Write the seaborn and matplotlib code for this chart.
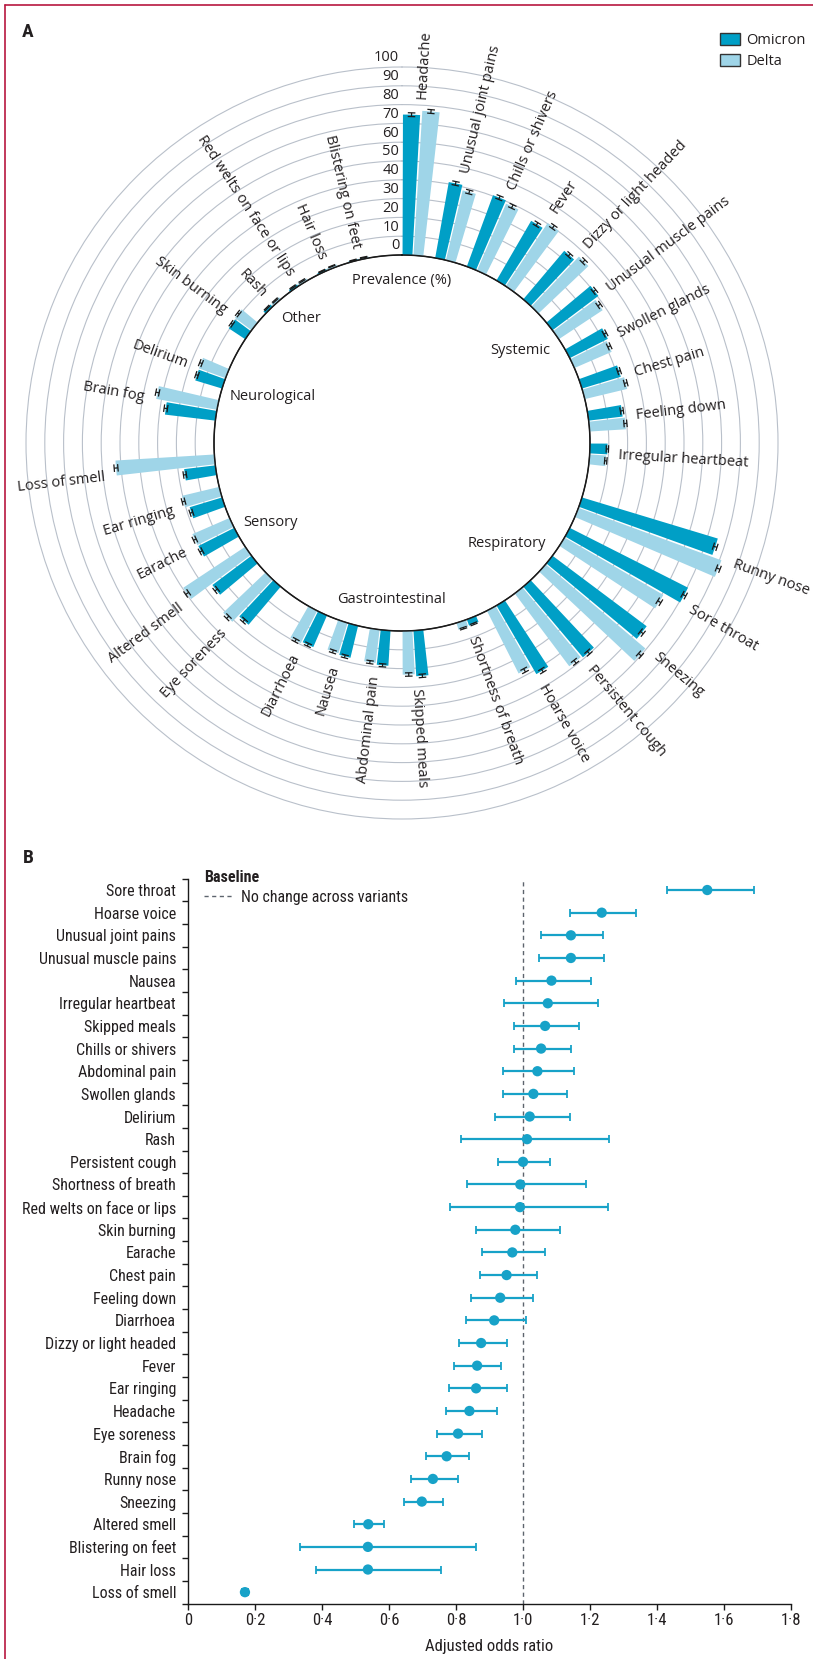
#!/usr/bin/env python3

'''circular prevalence bars (A) and odds ratio forest plot (B)'''

import numpy as np
import pandas as pd
import matplotlib
matplotlib.use('Agg')
import matplotlib.pyplot as plt
import seaborn as sns
from matplotlib.patches import Patch
from matplotlib.lines import Line2D

# ---------------- panel A data: prevalence (%), clockwise from the top ----------------
groups = ['Systemic', 'Respiratory', 'Gastrointestinal', 'Sensory', 'Neurological', 'Other']
systemic = ['Headache', 'Unusual joint pains', 'Chills or shivers', 'Fever', 'Dizzy or light headed',
            'Unusual muscle pains', 'Swollen glands', 'Chest pain', 'Feeling down', 'Irregular heartbeat']
respiratory = ['Runny nose', 'Sore throat', 'Sneezing', 'Persistent cough', 'Hoarse voice',
               'Shortness of breath']
gastro = ['Skipped meals', 'Abdominal pain', 'Nausea', 'Diarrhoea']
sensory = ['Eye soreness', 'Altered smell', 'Earache', 'Ear ringing', 'Loss of smell']
neuro = ['Brain fog', 'Delirium']
other = ['Skin burning', 'Rash', 'Red welts on face or lips', 'Hair loss', 'Blistering on feet']

omicron_prev = [74.7, 41.0, 40.4, 36.7, 33.8, 30.5, 22.7, 21.6, 18.2, 9.3,
                75.5, 70.5, 62.6, 49.2, 42.2, 3.5,
                24.3, 18.7, 17.5, 18.4,
                26.5, 26.0, 21.4, 18.0, 16.7,
                27.0, 14.9,
                10.5, 1.6, 1.2, 0.9, 0.6]
delta_prev = [77.0, 38.2, 38.8, 40.3, 36.7, 28.0, 21.6, 23.2, 19.3, 8.8,
              81.0, 60.8, 69.4, 48.4, 37.4, 3.8,
              23.2, 17.8, 16.8, 19.3,
              31.1, 39.5, 21.6, 20.3, 52.7,
              32.8, 15.1,
              11.0, 1.5, 1.3, 1.2, 0.8]
# half width of the 95% CI, percentage points
omicron_ci = [1.0, 1.0, 1.0, 1.0, 0.9, 0.9, 0.8, 0.8, 0.8, 0.6,
              1.0, 1.0, 1.0, 1.0, 1.0, 0.4,
              0.9, 0.8, 0.8, 0.8,
              0.9, 0.9, 0.8, 0.8, 0.8,
              0.9, 0.7,
              0.6, 0.3, 0.3, 0.2, 0.2]
delta_ci = [1.0, 1.0, 1.0, 1.0, 1.0, 0.9, 0.8, 0.8, 0.8, 0.6,
            1.0, 1.0, 1.0, 1.0, 1.0, 0.4,
            0.9, 0.8, 0.8, 0.8,
            0.9, 1.0, 0.8, 0.8, 1.0,
            0.9, 0.7,
            0.6, 0.3, 0.3, 0.2, 0.2]
prev_ticks = [0, 10, 20, 30, 40, 50, 60, 70, 80, 90, 100]

# ---------------- panel B data: adjusted odds ratio, top to bottom ----------------
or_labels = ['Sore throat', 'Hoarse voice', 'Unusual joint pains', 'Unusual muscle pains', 'Nausea',
             'Irregular heartbeat', 'Skipped meals', 'Chills or shivers', 'Abdominal pain',
             'Swollen glands', 'Delirium', 'Rash', 'Persistent cough', 'Shortness of breath',
             'Red welts on face or lips', 'Skin burning', 'Earache', 'Chest pain', 'Feeling down',
             'Diarrhoea', 'Dizzy or light headed', 'Fever', 'Ear ringing', 'Headache', 'Eye soreness',
             'Brain fog', 'Runny nose', 'Sneezing', 'Altered smell', 'Blistering on feet', 'Hair loss',
             'Loss of smell']
or_value = [1.55, 1.235, 1.143, 1.143, 1.085, 1.074, 1.066, 1.054, 1.043, 1.031, 1.020, 1.012, 1.00,
            0.992, 0.991, 0.977, 0.968, 0.951, 0.932, 0.914, 0.875, 0.863, 0.860, 0.840, 0.806,
            0.772, 0.731, 0.698, 0.538, 0.537, 0.537, 0.17]
or_low = [1.43, 1.140, 1.055, 1.048, 0.978, 0.943, 0.974, 0.974, 0.940, 0.940, 0.915, 0.815, 0.925,
          0.832, 0.782, 0.860, 0.878, 0.871, 0.846, 0.829, 0.808, 0.795, 0.780, 0.769, 0.743,
          0.709, 0.665, 0.645, 0.497, 0.335, 0.382, 0.16]
or_high = [1.69, 1.338, 1.240, 1.243, 1.202, 1.223, 1.166, 1.143, 1.152, 1.131, 1.140, 1.258, 1.082,
           1.188, 1.255, 1.109, 1.066, 1.043, 1.031, 1.009, 0.951, 0.934, 0.951, 0.923, 0.878,
           0.840, 0.805, 0.760, 0.585, 0.860, 0.754, 0.18]
or_ticks = [0, 0.2, 0.4, 0.6, 0.8, 1.0, 1.2, 1.4, 1.6, 1.8]
or_tick_labels = ['0', '0·2', '0·4', '0·6', '0·8', '1·0', '1·2', '1·4', '1·6', '1·8']

# ---------------- style ----------------
OMI = '#009fc6'
DEL = '#9fd5e8'
BLUE = '#17a2c8'
TXT = '#231f20'
FRAME = '#b8173f'
WIDE = ['Open Sans', 'DejaVu Sans']
NARROW = ['Roboto Condensed', 'Fira Sans Condensed', 'PT Sans Narrow', 'DejaVu Sans']
FS_A = 10.5
FS_B = 12
FS_YLAB = 11.5

sns.set_style('ticks')
plt.rcParams['font.family'] = WIDE
plt.rcParams['text.color'] = TXT

fig = plt.figure(figsize=(8.13, 16.59), dpi=100)
W, H = 813, 1659

# ---------------- panel A ----------------
members = [systemic, respiratory, gastro, sensory, neuro, other]
n_slots = 108
slot = 2 * np.pi / n_slots
names, ks = [], []
k = 0
for grp in members:
    for name in grp:
        names.append(name)
        ks.append(k)
        k += 3          # omicron, delta, blank
    k += 2              # extra space between groups
theta_o = (np.array(ks) + 0.5) * slot
theta_d = theta_o + slot

R_PX = 376 * 201 / 200      # radius of the axes so that r=100 sits 376 px from the centre
axA = fig.add_axes([(402 - R_PX) / W, 1 - (443 + R_PX) / H, 2 * R_PX / W, 2 * R_PX / H], projection='polar')
axA.set_theta_zero_location('N')
axA.set_theta_direction(-1)
axA.set_ylim(0, 101)
axA.set_rorigin(-100)
axA.set_xticks([])
axA.set_yticks(prev_ticks[1:])
axA.set_yticklabels([])
axA.yaxis.grid(True, color='#b9c0ca', lw=0.8)
axA.spines['polar'].set_visible(False)
axA.set_facecolor('none')

axA.bar(theta_o, omicron_prev, width=slot * 0.9, bottom=0, color=OMI, zorder=3, lw=0)
axA.bar(theta_d, delta_prev, width=slot * 0.9, bottom=0, color=DEL, zorder=3, lw=0)

# inner circle = 0 %
ring = np.linspace(0, 2 * np.pi, 400)
axA.plot(ring, np.zeros_like(ring), color='#1a1a1a', lw=1.1, zorder=4, clip_on=False)

# error bars with caps drawn across the bar
for th, v, ci in zip(np.r_[theta_o, theta_d], np.r_[omicron_prev, delta_prev], np.r_[omicron_ci, delta_ci]):
    lo, hi = v - ci, v + ci
    half = 2.0 / (v + 100)
    axA.vlines(th, lo, hi, color='#1a1a1a', lw=0.9, zorder=5, clip_on=False)
    axA.hlines([lo, hi], th - half, th + half, color='#1a1a1a', lw=0.9, zorder=5, clip_on=False)

# symptom labels along the radius
tops = np.maximum(np.array(omicron_prev) + omicron_ci, np.array(delta_prev) + delta_ci)
for th, name, top in zip(theta_o + slot / 2, names, tops):
    deg = np.degrees(th)
    if deg < 180:
        rot, ha = 90 - deg, 'left'
    else:
        rot, ha = 270 - deg, 'right'
    axA.text(th, top + 5.5, name, rotation=rot, rotation_mode='anchor', ha=ha, va='center',
             fontsize=FS_A, color=TXT)

# radial scale
for v in prev_ticks:
    axA.annotate(str(v), xy=(0, v), xytext=(-2, 6.5), textcoords='offset points', ha='right',
                 va='center', fontsize=FS_A, color=TXT, annotation_clip=False)

# group names inside the ring
group_label_pos = [(52, -20), (133.8, -22.5), (184, -16.6), (238.8, -18), (289.6, -27), (321, -14.5)]
for g, (a, r) in zip(groups, group_label_pos):
    axA.text(np.radians(a), r, g, ha='center', va='center', fontsize=FS_A, color=TXT)
axA.text(0, -13.4, 'Prevalence (%)', ha='center', va='center', fontsize=FS_A, color=TXT)

fig.legend(handles=[Patch(facecolor=OMI, edgecolor='#333333', lw=1, label='Omicron'),
                    Patch(facecolor=DEL, edgecolor='#333333', lw=1, label='Delta')],
           loc='upper left', bbox_to_anchor=(720 / W, 1 - 33 / H), frameon=False,
           handlelength=1.4, handleheight=0.85, handletextpad=0.4, labelspacing=0.4,
           borderpad=0, borderaxespad=0, fontsize=FS_A)

# ---------------- panel B ----------------
df = pd.DataFrame({'symptom': or_labels, 'aor': or_value, 'low': or_low, 'high': or_high})
df['pos'] = np.arange(len(df))

axB = fig.add_axes([188 / W, 1 - 1603.5 / H, 603 / W, 724.8 / H])
axB.axvline(1.0, color='#5d646d', lw=1, ls=(0, (3, 2.5)), zorder=1, label='No change across variants')
axB.errorbar(df['aor'], df['pos'], xerr=[df['aor'] - df['low'], df['high'] - df['aor']], fmt='none',
             ecolor=BLUE, elinewidth=1.6, capsize=3.2, capthick=1.3, zorder=2)
sns.scatterplot(data=df, x='aor', y='pos', ax=axB, color=BLUE, s=55, edgecolor='none', zorder=3,
                legend=False)

axB.set_xlim(0, 1.8)
axB.set_ylim(len(df) - 0.5, -0.5)
axB.set_xticks(or_ticks)
axB.set_xticklabels(or_tick_labels, family=NARROW, fontsize=FS_B, color=TXT)
axB.set_yticks(df['pos'])
axB.set_yticklabels(df['symptom'], family=NARROW, fontsize=FS_YLAB, color=TXT)
axB.set_yticks(np.arange(-0.5, len(df), 1), minor=True)
axB.tick_params(axis='x', length=4, width=1, pad=3, color='#1a1a1a')
axB.tick_params(axis='y', which='major', length=0, pad=8.6)
axB.tick_params(axis='y', which='minor', length=4.5, width=1, color='#1a1a1a')
axB.set_xlabel('Adjusted odds ratio', family=NARROW, fontsize=FS_B, color=TXT, labelpad=8)
axB.set_ylabel('')
sns.despine(ax=axB)
for s in ['left', 'bottom']:
    axB.spines[s].set_color('#1a1a1a')
    axB.spines[s].set_linewidth(1)

leg = axB.legend(loc='upper left', bbox_to_anchor=(204 / W, 1 - 870 / H), bbox_transform=fig.transFigure,
                 title='Baseline', alignment='left', frameon=False, borderpad=0, borderaxespad=0,
                 handlelength=1.9, handletextpad=0.4, labelspacing=0.3,
                 prop={'family': NARROW, 'size': FS_YLAB},
                 title_fontproperties={'family': NARROW, 'size': FS_YLAB, 'weight': 'bold'})

# ---------------- panel letters and frame ----------------
fig.text(28 / W, 1 - 32 / H, 'A', fontsize=14, fontweight='bold', ha='center', va='center', family=NARROW)
fig.text(28 / W, 1 - 858 / H, 'B', fontsize=14, fontweight='bold', ha='center', va='center', family=NARROW)
fig.add_artist(Line2D([5 / W, 5 / W], [0, 1 - 5 / H], transform=fig.transFigure, color=FRAME, lw=1.2))
fig.add_artist(Line2D([5 / W, 1], [1 - 5 / H, 1 - 5 / H], transform=fig.transFigure, color=FRAME, lw=1.2))

plt.savefig('out.png', dpi=100)
